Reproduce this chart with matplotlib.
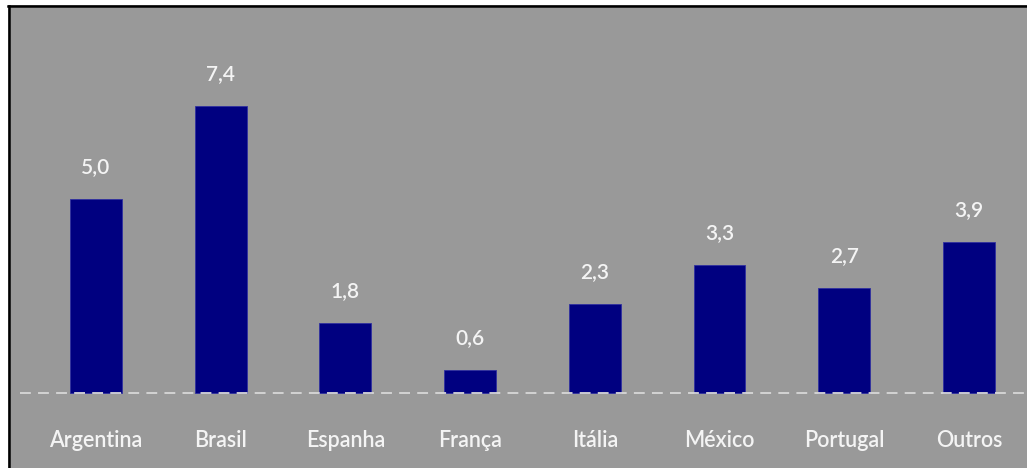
import matplotlib.pyplot as plt
from matplotlib.patches import Rectangle
from matplotlib.lines import Line2D

paises = ['Argentina', 'Brasil', 'Espanha', 'França', 'Itália', 'México', 'Portugal', 'Outros']
valores = [5.0, 7.4, 1.8, 0.6, 2.3, 3.3, 2.7, 3.9]
rotulos = ['5,0', '7,4', '1,8', '0,6', '2,3', '3,3', '2,7', '3,9']

W, H = 1027, 468
fig = plt.figure(figsize=(W / 100, H / 100), dpi=100, facecolor='#999999')

# white strips + black frame lines at top and left
fig.patches.append(Rectangle((0, 0), 8 / W, 1, transform=fig.transFigure,
                             facecolor='white', edgecolor='none', zorder=0))
fig.patches.append(Rectangle((0, 1 - 5 / H), 1, 5 / H, transform=fig.transFigure,
                             facecolor='white', edgecolor='none', zorder=0))
fig.lines.append(Line2D([9 / W, 9 / W], [0, 1 - 6 / H], transform=fig.transFigure,
                        color='black', lw=1.8))
fig.lines.append(Line2D([8 / W, 1], [1 - 6 / H, 1 - 6 / H], transform=fig.transFigure,
                        color='black', lw=1.8))

ax = fig.add_axes([0, 0, 1, 1])
ax.set_facecolor('none')
x = list(range(len(paises)))
ax.bar(x, valores, width=0.417, color='#000080', edgecolor='#3030a0', linewidth=0.6, zorder=2)
ax.axhline(0, xmin=20 / W, color='#d8d8d8', lw=1.3, ls=(0, (6, 4)), zorder=3)

for i, v in enumerate(valores):
    ax.annotate(rotulos[i], (i, v), xytext=(0, 23), textcoords='offset points',
                ha='center', va='center', color='#f4f4f4', fontsize=15,
                family='Lato', fontweight='semibold')
    ax.annotate(paises[i], (i, 0), xytext=(0, -34.5), textcoords='offset points',
                ha='center', va='center', color='#f4f4f4', fontsize=15.5,
                family='Lato', fontweight='semibold')

ax.set_xlim(-96 / 124.7, (W - 96) / 124.7)
ax.set_ylim(-75 / 38.8, 393 / 38.8)
ax.axis('off')

fig.savefig('out.png', dpi=100, facecolor=fig.get_facecolor())
